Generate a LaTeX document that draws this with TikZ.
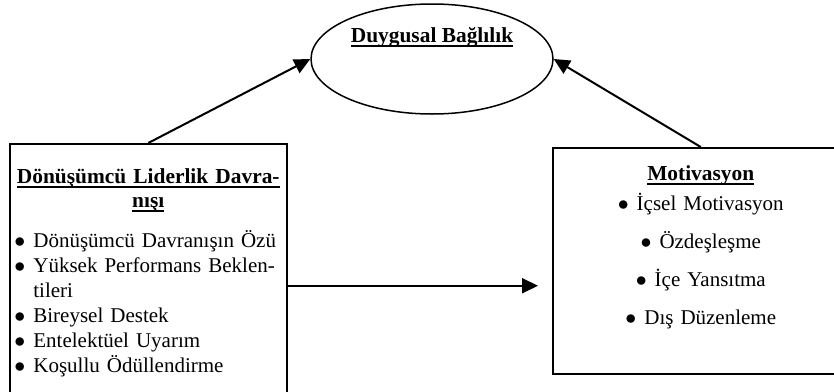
\documentclass[tikz,border=0pt]{standalone}
\usepackage{fontspec}
\setmainfont{Liberation Serif}
\usetikzlibrary{arrows.meta, calc, positioning, shapes.geometric}
\newcommand{\ModelFont}{\fontsize{10.7}{12}\selectfont}
\newcommand{\ModelListFont}{\fontsize{10.5}{12.5}\selectfont}
\newcommand{\modeldot}{$\bullet$}
\newcommand{\modelpoint}{\makebox[9.5pt][l]{\modeldot}}
\newcommand{\modelul}[1]{\leavevmode\setbox0\hbox{#1}\rlap{\rule[-2.3pt]{\wd0}{0.9pt}}\box0}
\tikzset{
  model box/.style={
    draw,
    rectangle,
    line width=0.75pt,
    inner sep=0pt,
    anchor=north west
  },
  model ellipse/.style={
    draw,
    ellipse,
    line width=0.75pt,
    minimum width=121pt,
    minimum height=55pt,
    inner sep=0pt
  },
  model arrow/.style={
    -{Triangle[length=8pt,width=7.5pt]},
    line width=1pt
  },
  model title/.style={
    font=\ModelFont\bfseries,
    align=center,
    inner sep=0pt
  },
  model list/.style={
    font=\ModelListFont,
    inner sep=0pt
  }
}

\begin{document}
\begin{tikzpicture}[x=0.5pt,y=-0.5pt]
\useasboundingbox (0,0) rectangle (834,391);

\node[model ellipse] (bond) at (432,59) {};
\node[model title, anchor=base] (bondtitle) at ($(bond.center)+(0,-17)$)
  {\modelul{Duygusal Bağlılık}};

\node[model box, minimum width=138.5pt, minimum height=142pt] (lead) at (9,143) {};
\node[model title, text width=136pt, anchor=base] (leadtitle) at ($(lead.north)+(0,40)$)
  {\modelul{Dönüşümcü Liderlik Davra-}\\\modelul{nışı}};
\node[model list, text width=136pt, align=left, anchor=base west] (leadlist)
  at ($(lead.north west)+(5,104)$)
  {\modelpoint Dönüşümcü Davranışın Özü\\
   \modelpoint Yüksek Performans Beklen-\\
   \hspace*{9.5pt}tileri\\
   \modelpoint Bireysel Destek\\
   \modelpoint Entelektüel Uyarım\\
   \modelpoint Koşullu Ödüllendirme};

\node[model box, minimum width=148pt, minimum height=113pt] (mot) at (552,147) {};
\node[model title, anchor=base] (mottitle) at ($(mot.north)+(0,33)$)
  {\modelul{Motivasyon}};
\node[model list, text width=140pt, align=center, anchor=base] (motlist)
  at ($(mot.north)+(0,63)$)
  {\modeldot\hspace{4pt}İçsel Motivasyon\\[6.5pt]
   \modeldot\hspace{4pt}Özdeşleşme\\[6.5pt]
   \modeldot\hspace{4pt}İçe Yansıtma\\[6.5pt]
   \modeldot\hspace{4pt}Dış Düzenleme};

\draw[model arrow] (lead.north) -- (bond.west);
\draw[model arrow] (mot.north) -- (bond.east);
\draw[model arrow, shorten >=7pt] (lead.east) -- (lead.east -| mot.west);
\end{tikzpicture}
\end{document}
